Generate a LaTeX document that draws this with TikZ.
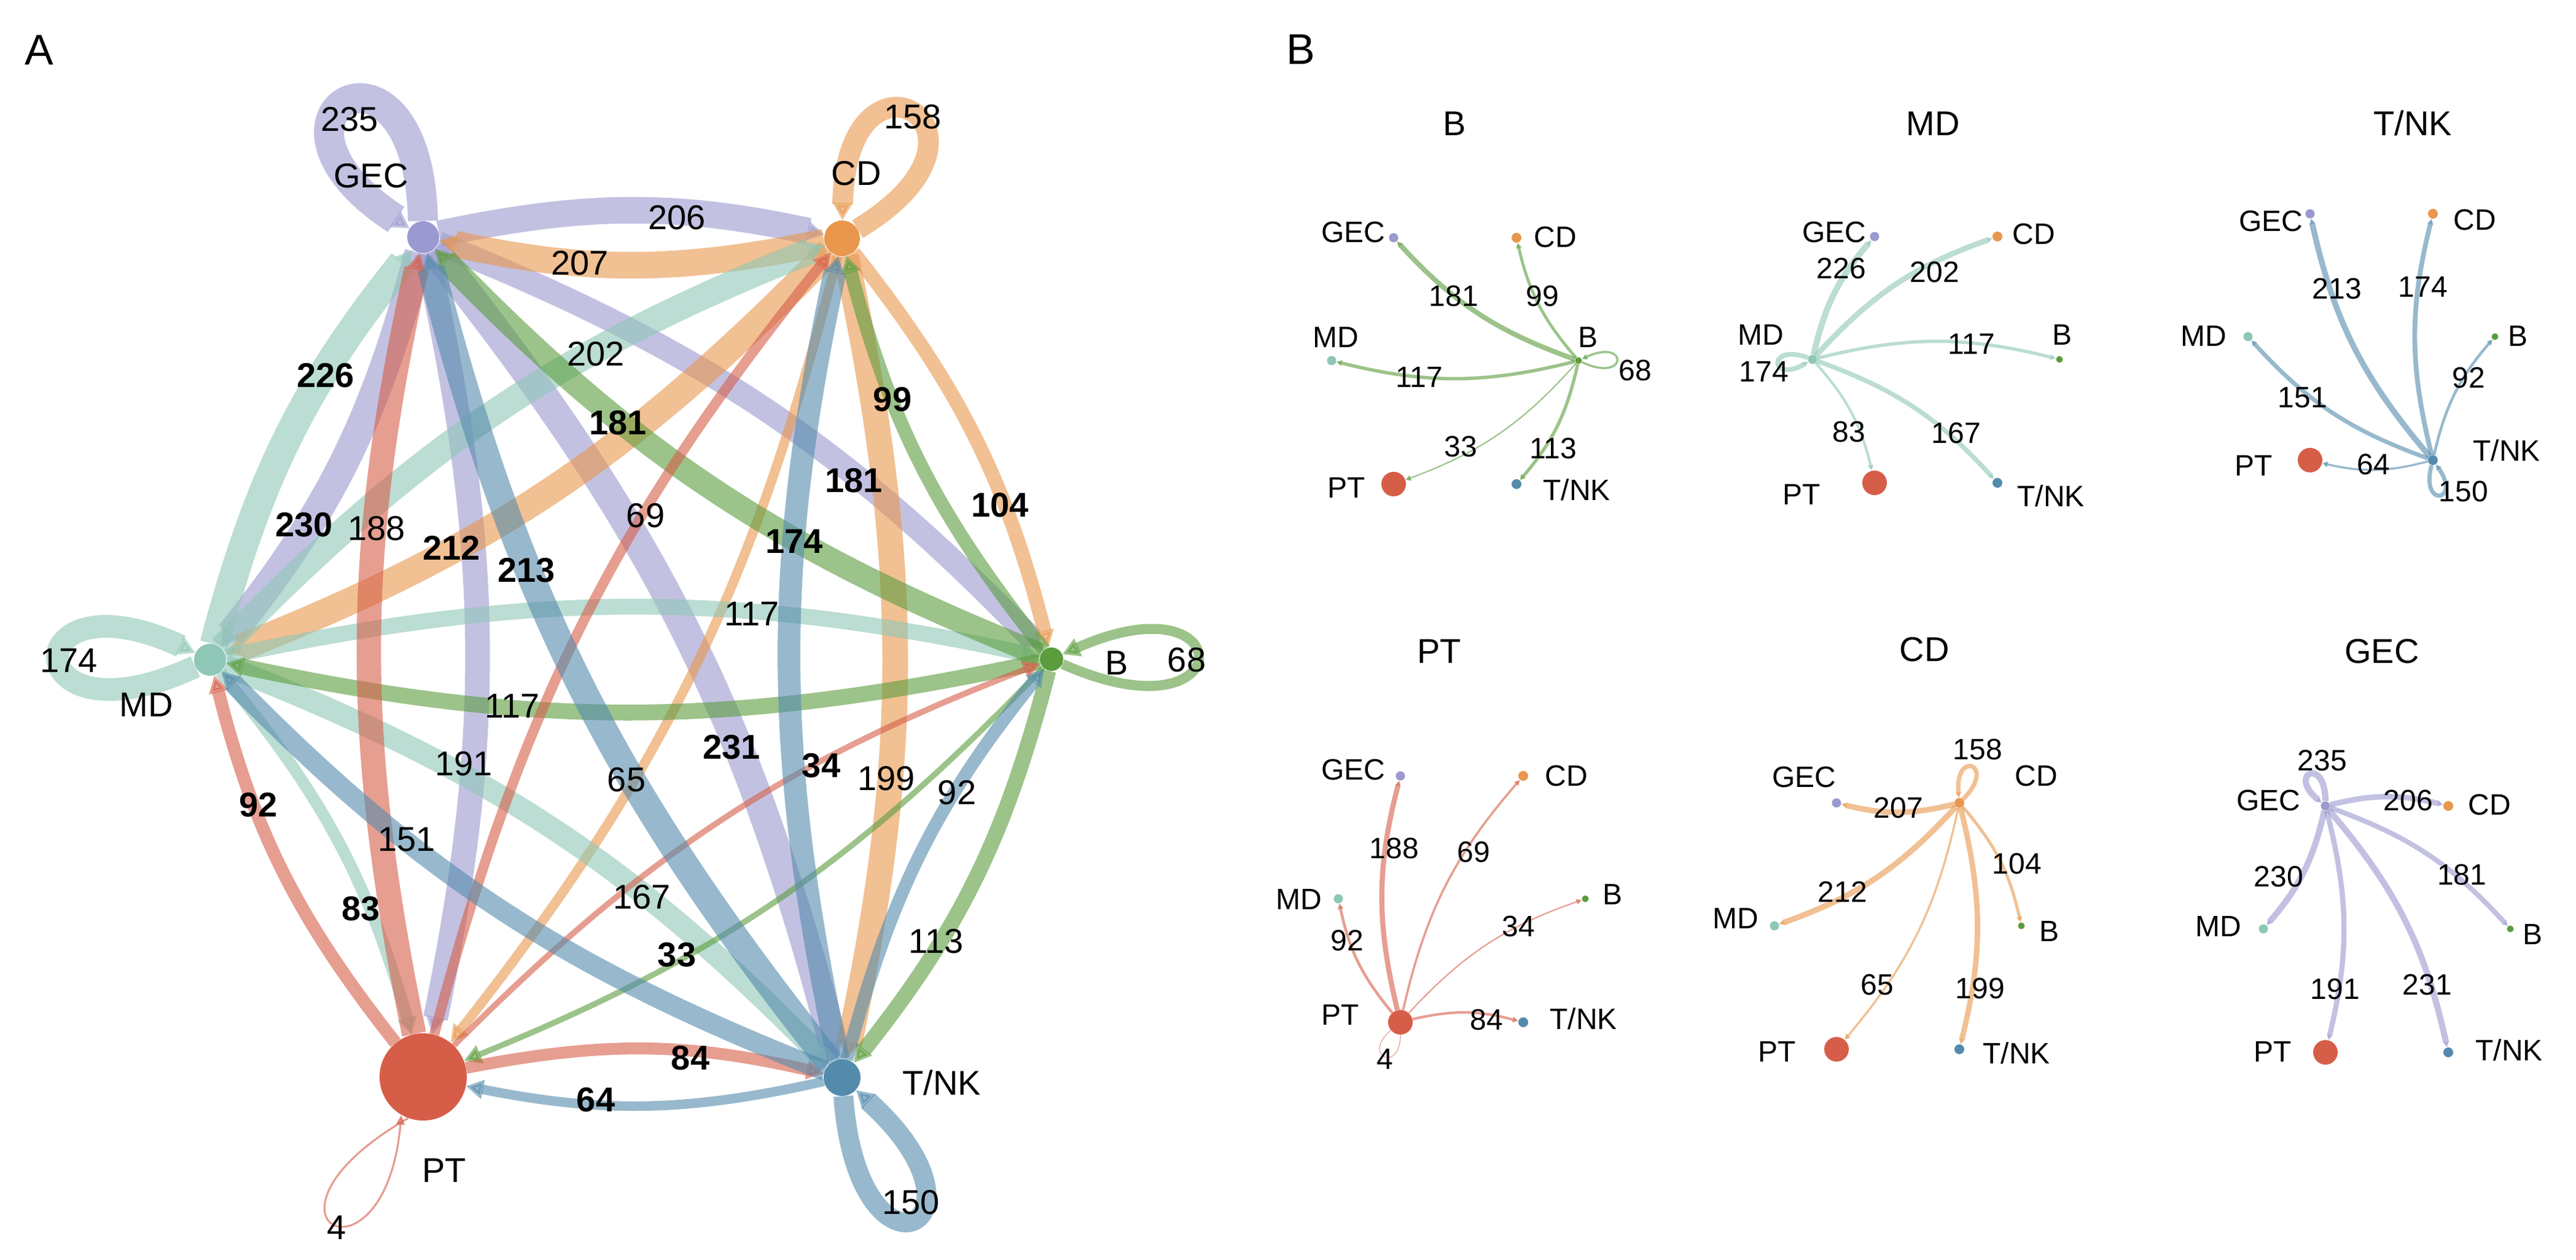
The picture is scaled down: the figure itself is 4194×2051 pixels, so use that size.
\documentclass[tikz,border=0pt]{standalone}
\usepackage{fontspec}
\setmainfont{Liberation Sans}
\usetikzlibrary{arrows.meta,backgrounds}
\definecolor{cGEC}{HTML}{9B99CF}
\definecolor{cCD}{HTML}{E8974C}
\definecolor{cMD}{HTML}{8FC7B7}
\definecolor{cB}{HTML}{5B9C3D}
\definecolor{cPT}{HTML}{D65E48}
\definecolor{cTNK}{HTML}{548BAD}
\tikzset{
  nd/.style={circle,inner sep=0pt,minimum size=#1,draw=none},
  lab/.style={font=\fontsize{28}{30}\selectfont,inner sep=0pt},
  labb/.style={font=\fontsize{28}{30}\selectfont\bfseries,inner sep=0pt},
  blab/.style={font=\fontsize{24}{26}\selectfont,inner sep=0pt},
  ttl/.style={font=\fontsize{28}{30}\selectfont,inner sep=0pt},
  pnl/.style={font=\fontsize{35}{37}\selectfont,inner sep=0pt},
  ed/.style={opacity=0.6,-{Triangle[length=14pt,width=15pt]}},
  be/.style={opacity=0.6,-{Triangle[length=4.5pt,width=4.5pt]}},
}
\newcommand\edgeA[4]{\draw[ed,color=#1,line width={1.5pt+0.0975pt*#2}] (#3) to[bend left=12] (#4);}
\newcommand\loopA[6]{\draw[ed,color=#1,line width={1.5pt+0.0975pt*#2}] (#3) to[out=#4,in=#5,min distance=#6pt] (#3);}
\newcommand\edgeB[4]{\draw[be,color=#1,line width={0.4pt+0.02pt*#2}] (#3) to[bend left=14] (#4);}
\newcommand\loopB[6]{\draw[be,color=#1,line width={0.4pt+0.02pt*#2}] (#3) to[out=#4,in=#5,min distance=#6pt] (#3);}
\newcommand\mkSub[3]{%
  \node[nd=7.5pt,fill=cGEC] (#1GEC) at ({#2-100},{#3+200}) {};
  \node[nd=8pt,fill=cCD] (#1CD) at ({#2+100},{#3+200}) {};
  \node[nd=7.5pt,fill=cMD] (#1MD) at ({#2-201},{#3}) {};
  \node[nd=5.5pt,fill=cB] (#1B) at ({#2+201},{#3}) {};
  \node[nd=20pt,fill=cPT] (#1PT) at ({#2-100},{#3-201}) {};
  \node[nd=8pt,fill=cTNK] (#1TNK) at ({#2+100},{#3-201}) {};
}
\begin{document}
\begin{tikzpicture}[x=0.5pt,y=0.5pt]
\useasboundingbox (0,0) rectangle (4194,2051);
% ---------- Panel A nodes ----------
\node[nd=26pt,fill=cGEC] (GEC) at (689,1665) {};
\node[nd=29pt,fill=cCD] (CD) at (1371,1663) {};
\node[nd=26pt,fill=cMD] (MD) at (342,977) {};
\node[nd=19pt,fill=cB] (B) at (1712,978) {};
\node[nd=71pt,fill=cPT] (PT) at (689,298) {};
\node[nd=30pt,fill=cTNK] (TNK) at (1371,297) {};
% ---------- Panel B nodes ----------
\mkSub{pa}{2369}{1464}
\mkSub{pb}{3152}{1466}
\mkSub{pc}{3861}{1503}
\mkSub{pd}{2380}{588}
\mkSub{pe}{3090}{544}
\mkSub{pf}{3886}{539}
\begin{pgfonlayer}{background}
\fill[white] (0,0) rectangle (4194,2051);
% GEC
\edgeA{cGEC}{206}{GEC}{CD}
\edgeA{cGEC}{230}{GEC}{MD}
\edgeA{cGEC}{181}{GEC}{B}
\edgeA{cGEC}{191}{GEC}{PT}
\edgeA{cGEC}{231}{GEC}{TNK}
\loopA{cGEC}{235}{GEC}{91}{147}{172}
% CD
\edgeA{cCD}{207}{CD}{GEC}
\edgeA{cCD}{212}{CD}{MD}
\edgeA{cCD}{104}{CD}{B}
\edgeA{cCD}{65}{CD}{PT}
\edgeA{cCD}{199}{CD}{TNK}
\loopA{cCD}{158}{CD}{31}{89}{158}
% MD
\edgeA{cMD}{226}{MD}{GEC}
\edgeA{cMD}{202}{MD}{CD}
\edgeA{cMD}{117}{MD}{B}
\edgeA{cMD}{83}{MD}{PT}
\edgeA{cMD}{167}{MD}{TNK}
\loopA{cMD}{174}{MD}{205}{155}{163}
% B
\edgeA{cB}{181}{B}{GEC}
\edgeA{cB}{99}{B}{CD}
\edgeA{cB}{117}{B}{MD}
\edgeA{cB}{33}{B}{PT}
\edgeA{cB}{113}{B}{TNK}
\loopA{cB}{68}{B}{-24}{24}{160}
% PT
\edgeA{cPT}{188}{PT}{GEC}
\edgeA{cPT}{69}{PT}{CD}
\edgeA{cPT}{92}{PT}{MD}
\edgeA{cPT}{34}{PT}{B}
\edgeA{cPT}{84}{PT}{TNK}
\draw[opacity=0.6,color=cPT,line width=1.6pt,-{Triangle[length=8pt,width=7pt]}] (PT.250) .. controls +(210:330) and +(265:300) .. (PT.240);
% TNK
\edgeA{cTNK}{213}{TNK}{GEC}
\edgeA{cTNK}{174}{TNK}{CD}
\edgeA{cTNK}{151}{TNK}{MD}
\edgeA{cTNK}{92}{TNK}{B}
\edgeA{cTNK}{64}{TNK}{PT}
\loopA{cTNK}{150}{TNK}{274}{318}{165}
% ---------- Panel B edges ----------
\edgeB{cB}{181}{paB}{paGEC}
\edgeB{cB}{99}{paB}{paCD}
\edgeB{cB}{117}{paB}{paMD}
\edgeB{cB}{33}{paB}{paPT}
\edgeB{cB}{113}{paB}{paTNK}
\loopB{cB}{68}{paB}{-25}{25}{42}
\edgeB{cMD}{226}{pbMD}{pbGEC}
\edgeB{cMD}{202}{pbMD}{pbCD}
\edgeB{cMD}{117}{pbMD}{pbB}
\edgeB{cMD}{83}{pbMD}{pbPT}
\edgeB{cMD}{167}{pbMD}{pbTNK}
\loopB{cMD}{174}{pbMD}{160}{210}{36}
\edgeB{cTNK}{213}{pcTNK}{pcGEC}
\edgeB{cTNK}{174}{pcTNK}{pcCD}
\edgeB{cTNK}{151}{pcTNK}{pcMD}
\edgeB{cTNK}{92}{pcTNK}{pcB}
\edgeB{cTNK}{64}{pcTNK}{pcPT}
\loopB{cTNK}{150}{pcTNK}{255}{305}{37}
\edgeB{cPT}{188}{pdPT}{pdGEC}
\edgeB{cPT}{69}{pdPT}{pdCD}
\edgeB{cPT}{92}{pdPT}{pdMD}
\edgeB{cPT}{34}{pdPT}{pdB}
\edgeB{cPT}{84}{pdPT}{pdTNK}
\draw[opacity=0.6,color=cPT,line width=0.6pt] (pdPT) to[out=220,in=270,min distance=32pt] (pdPT);
\edgeB{cCD}{207}{peCD}{peGEC}
\edgeB{cCD}{212}{peCD}{peMD}
\edgeB{cCD}{104}{peCD}{peB}
\edgeB{cCD}{65}{peCD}{pePT}
\edgeB{cCD}{199}{peCD}{peTNK}
\loopB{cCD}{158}{peCD}{45}{95}{40}
\edgeB{cGEC}{206}{pfGEC}{pfCD}
\edgeB{cGEC}{230}{pfGEC}{pfMD}
\edgeB{cGEC}{181}{pfGEC}{pfB}
\edgeB{cGEC}{191}{pfGEC}{pfPT}
\edgeB{cGEC}{231}{pfGEC}{pfTNK}
\loopB{cGEC}{235}{pfGEC}{90}{140}{37}
\end{pgfonlayer}
% ---------- Panel letters ----------
\node[pnl] (pA) at (64,1970) {A};
\node[pnl] (pB) at (2118,1971) {B};
% ---------- Panel A labels ----------
\node[lab] (tGEC) at (604,1765) {GEC};
\node[lab] (tCD) at (1394,1769) {CD};
\node[lab] (tMD) at (238,904) {MD};
\node[lab] (tB) at (1818,972) {B};
\node[lab] (tPT) at (723,146) {PT};
\node[lab] (tTNK) at (1533,289) {T/NK};
\node[lab] (w235) at (569,1857) {235};
\node[lab] (w158) at (1486,1861) {158};
\node[lab] (w206) at (1102,1697) {206};
\node[lab] (w207) at (944,1623) {207};
\node[lab] (w202) at (970,1475) {202};
\node[labb] (w226) at (530,1440) {226};
\node[labb] (w181a) at (1006,1363) {181};
\node[labb] (w99) at (1453,1401) {99};
\node[labb] (w181b) at (1390,1269) {181};
\node[labb] (w104) at (1628,1229) {104};
\node[labb] (w230) at (495,1197) {230};
\node[lab] (w188) at (613,1191) {188};
\node[labb] (w212) at (735,1159) {212};
\node[labb] (w213) at (857,1123) {213};
\node[lab] (w69) at (1051,1212) {69};
\node[labb] (w174a) at (1293,1170) {174};
\node[lab] (w117a) at (1224,1052) {117};
\node[lab] (w174b) at (112,976) {174};
\node[lab] (w68) at (1932,977) {68};
\node[lab] (w117b) at (834,902) {117};
\node[lab] (w191) at (755,808) {191};
\node[lab] (w65) at (1020,782) {65};
\node[labb] (w231) at (1191,835) {231};
\node[labb] (w34) at (1337,805) {34};
\node[lab] (w199) at (1443,784) {199};
\node[lab] (w92a) at (1558,761) {92};
\node[labb] (w92b) at (421,741) {92};
\node[lab] (w151) at (662,684) {151};
\node[lab] (w167) at (1045,591) {167};
\node[labb] (w83) at (588,572) {83};
\node[labb] (w33) at (1102,497) {33};
\node[lab] (w113) at (1524,519) {113};
\node[labb] (w84) at (1124,329) {84};
\node[labb] (w64) at (970,261) {64};
\node[lab] (w150) at (1483,94) {150};
\node[lab] (w4) at (548,53) {4};
% ---------- Panel B: subplot B ----------
\node[ttl] (ta) at (2368,1850) {B};
\node[blab] (aGEC) at (2203,1673) {GEC};
\node[blab] (aCD) at (2532,1665) {CD};
\node[blab] (aMD) at (2175,1502) {MD};
\node[blab] (aB) at (2585,1502) {B};
\node[blab] (aPT) at (2192,1257) {PT};
\node[blab] (aTNK) at (2567,1254) {T/NK};
\node[blab] (a181) at (2367,1569) {181};
\node[blab] (a99) at (2511,1569) {99};
\node[blab] (a117) at (2311,1437) {117};
\node[blab] (a68) at (2662,1448) {68};
\node[blab] (a33) at (2378,1324) {33};
\node[blab] (a113) at (2529,1321) {113};
% ---------- subplot MD ----------
\node[ttl] (tb) at (3147,1850) {MD};
\node[blab] (bGEC) at (2986,1673) {GEC};
\node[blab] (bCD) at (3311,1670) {CD};
\node[blab] (bMD) at (2867,1506) {MD};
\node[blab] (bB) at (3357,1506) {B};
\node[blab] (bPT) at (2933,1246) {PT};
\node[blab] (bTNK) at (3339,1244) {T/NK};
\node[blab] (b226) at (2998,1614) {226};
\node[blab] (b202) at (3150,1608) {202};
\node[blab] (b117) at (3210,1491) {117};
\node[blab] (b174) at (2872,1446) {174};
\node[blab] (b83) at (3010,1348) {83};
\node[blab] (b167) at (3185,1346) {167};
% ---------- subplot T/NK ----------
\node[ttl] (tc) at (3928,1850) {T/NK};
\node[blab] (cGEC) at (3697,1691) {GEC};
\node[blab] (cCD) at (4029,1693) {CD};
\node[blab] (cMD) at (3588,1504) {MD};
\node[blab] (cB) at (4099,1504) {B};
\node[blab] (cPT) at (3669,1293) {PT};
\node[blab] (cTNK) at (4081,1318) {T/NK};
\node[blab] (c213) at (3805,1581) {213};
\node[blab] (c174) at (3945,1584) {174};
\node[blab] (c151) at (3749,1404) {151};
\node[blab] (c92) at (4019,1436) {92};
\node[blab] (c64) at (3864,1295) {64};
\node[blab] (c150) at (4011,1251) {150};
% ---------- subplot PT ----------
\node[ttl] (td) at (2343,991) {PT};
\node[blab] (dGEC) at (2203,798) {GEC};
\node[blab] (dCD) at (2550,788) {CD};
\node[blab] (dMD) at (2115,587) {MD};
\node[blab] (dB) at (2625,595) {B};
\node[blab] (dPT) at (2182,399) {PT};
\node[blab] (dTNK) at (2578,393) {T/NK};
\node[blab] (d188) at (2270,670) {188};
\node[blab] (d69) at (2399,664) {69};
\node[blab] (d92) at (2193,520) {92};
\node[blab] (d34) at (2472,543) {34};
\node[blab] (d84) at (2420,391) {84};
\node[blab] (d4) at (2255,327) {4};
% ---------- subplot CD ----------
\node[ttl] (te) at (3133,994) {CD};
\node[blab] (eGEC) at (2937,786) {GEC};
\node[blab] (eCD) at (3315,788) {CD};
\node[blab] (eMD) at (2826,556) {MD};
\node[blab] (eB) at (3336,535) {B};
\node[blab] (ePT) at (2893,339) {PT};
\node[blab] (eTNK) at (3283,337) {T/NK};
\node[blab] (e158) at (3220,831) {158};
\node[blab] (e207) at (3091,736) {207};
\node[blab] (e104) at (3284,645) {104};
\node[blab] (e212) at (3000,599) {212};
\node[blab] (e65) at (3056,448) {65};
\node[blab] (e199) at (3224,442) {199};
% ---------- subplot GEC ----------
\node[ttl] (tf) at (3878,991) {GEC};
\node[blab] (fGEC) at (3693,748) {GEC};
\node[blab] (fCD) at (4053,741) {CD};
\node[blab] (fMD) at (3612,543) {MD};
\node[blab] (fB) at (4123,530) {B};
\node[blab] (fPT) at (3700,339) {PT};
\node[blab] (fTNK) at (4085,342) {T/NK};
\node[blab] (f235) at (3781,813) {235};
\node[blab] (f206) at (3921,748) {206};
\node[blab] (f230) at (3710,624) {230};
\node[blab] (f181) at (4008,627) {181};
\node[blab] (f191) at (3802,441) {191};
\node[blab] (f231) at (3952,448) {231};
\end{tikzpicture}
\end{document}
